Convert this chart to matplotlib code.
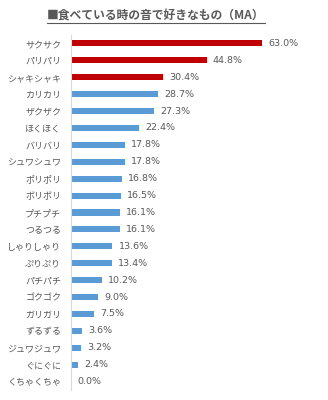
import matplotlib
matplotlib.use("Agg")
import matplotlib.pyplot as plt
from matplotlib.lines import Line2D

plt.rcParams['font.family'] = ['Noto Sans CJK JP', 'DejaVu Sans']

categories = ["サクサク", "パリパリ", "シャキシャキ", "カリカリ", "ザクザク", "ほくほく",
              "バリバリ", "シュワシュワ", "ポリポリ", "ボリボリ", "プチプチ", "つるつる",
              "しゃりしゃり", "ぷりぷり", "パチパチ", "ゴクゴク", "ガリガリ", "ずるずる",
              "ジュワジュワ", "ぐにぐに", "くちゃくちゃ"]
values = [63.0, 44.8, 30.4, 28.7, 27.3, 22.4, 17.8, 17.8, 16.8, 16.5, 16.1, 16.1,
          13.6, 13.4, 10.2, 9.0, 7.5, 3.6, 3.2, 2.4, 0.0]
highlight_count = 3
title = "■食べている時の音で好きなもの（MA）"

red = "#C00000"
blue = "#5B9BD5"
text_color = "#595959"

fig = plt.figure(figsize=(3.28, 4.0), dpi=100)
ax = fig.add_axes([0.2165, 0.025, 0.646, 0.8875])

n = len(categories)
ypos = list(range(n))
colors = [red if i < highlight_count else blue for i in range(n)]
ax.barh(ypos, values, height=0.36, color=colors)
ax.set_ylim(n - 0.5, -0.5)
ax.set_xlim(0, 70)
ax.set_yticks(ypos)
ax.set_yticklabels(categories, fontsize=6.5, color=text_color)
ax.tick_params(axis='y', length=0, pad=7)
ax.set_xticks([])
for s in ["top", "right", "bottom"]:
    ax.spines[s].set_visible(False)
ax.spines["left"].set_color("#D9D9D9")
ax.spines["left"].set_linewidth(0.8)

for y, v in zip(ypos, values):
    ax.annotate(f"{v:.1f}%", (v, y), xytext=(4.5, 0), textcoords="offset points",
                ha="left", va="center", fontsize=6.8, color=text_color,
                family=['DejaVu Sans'])

t = fig.text(0.475, 0.962, title, ha="center", va="center", fontsize=8.5,
             fontweight="bold", color=text_color)
fig.canvas.draw()
bb = t.get_window_extent().transformed(fig.transFigure.inverted())
fig.add_artist(Line2D([bb.x0, bb.x1], [bb.y0 - 0.004, bb.y0 - 0.004],
                      transform=fig.transFigure, color=text_color, lw=0.8))

fig.savefig("out.png", dpi=100)
